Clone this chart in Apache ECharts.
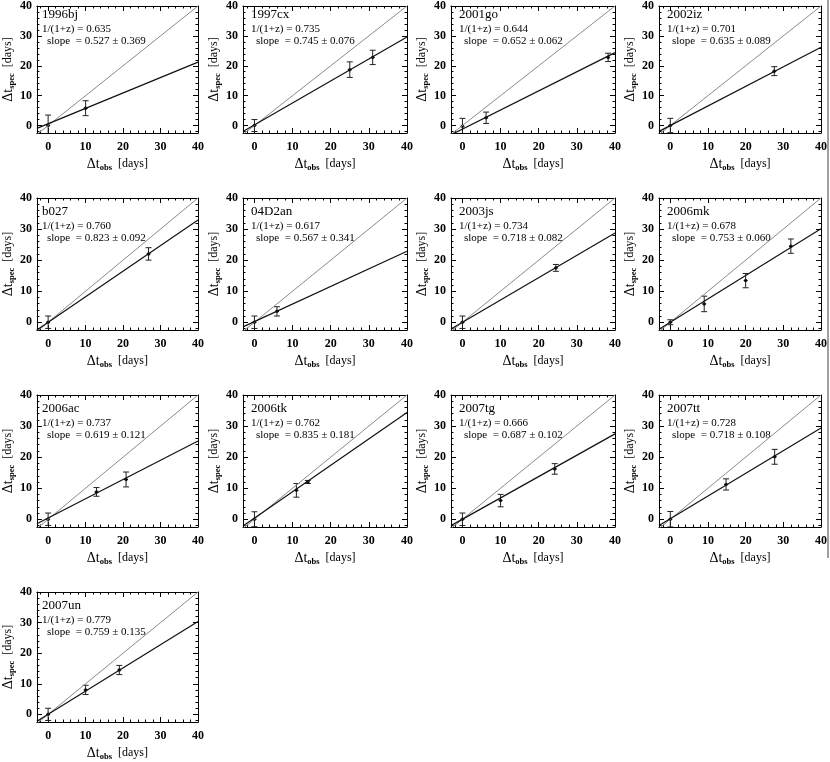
<!DOCTYPE html>
<html>
<head>
<meta charset="utf-8">
<script src="https://cdn.jsdelivr.net/npm/echarts@6/dist/echarts.min.js"></script>
<style>html,body{margin:0;padding:0;background:#fff}#c{width:830px;height:762px}</style>
</head>
<body>
<div id="c"></div>
<script>
// ---- data ----
const names = ['1996bj','1997cx','2001go','2002iz','b027','04D2an','2003js','2006mk','2006ac','2006tk','2007tg','2007tt','2007un'];
const invZ = ['0.635','0.735','0.644','0.701','0.760','0.617','0.734','0.678','0.737','0.762','0.666','0.728','0.779'];
const slopeText = ['0.527','0.745','0.652','0.635','0.823','0.567','0.718','0.753','0.619','0.835','0.687','0.718','0.759'];
const slopeErrText = ['0.369','0.076','0.062','0.089','0.092','0.341','0.082','0.060','0.121','0.181','0.102','0.108','0.135'];
// fitted line as drawn (slope, intercept)
const fitSlope = [0.515,0.735,0.64,0.655,0.823,0.567,0.718,0.753,0.62,0.85,0.687,0.73,0.759];
const fitIntercept = [0.6,0.2,-1.2,0,0,0.2,0,0,0.4,0.4,0,0.2,0];
// points
const obsX = [[0,10],[0,25,31],[0,6.2,38.2],[0,27.6],[0,26.8],[0,5.9],[0,24.5],[0,9,20,32],[0,12.9,20.8],[0,11,14],[0,10,24.2],[0,14.8,27.7],[0,10,19]];
const specY = [[0,5.8],[0,18.7,22.8],[-0.2,2.6,22.8],[0,18.2],[0,22],[0,3.5],[0,17.5],[0,5.9,13.4,24.5],[0,8.8,12.8],[0,9.3,12],[0,6,16.2],[0,11.2,20.1],[0,8,14.5]];
const specErr = [[3.5,2.5],[2,2.6,2.4],[2.6,1.9,1.4],[2.4,1.5],[2,2],[2,1.5],[2,1.1],[0.8,2.5,2.3,2.3],[2,1.4,2.4],[2.4,2.2,0.5],[2,2,1.7],[2.5,1.8,2.4],[2,1.5,1.5]];
const xRange = [-3, 40];
const yRange = [-2.5, 40];

// ---- layout ----
const colLeft = [34, 243, 451, 659];
const rowTop = [1, 198, 395, 592];
const W = 164, H = 132;
const FONT = 'Liberation Serif';

const chart = echarts.init(document.getElementById('c'), null, {renderer: 'canvas'});
const grid = [], xAxis = [], yAxis = [], series = [], graphic = [];

const nameRich = {
  d: {fontFamily: FONT, fontSize: 14, lineHeight: 16, color: '#000'},
  s: {fontFamily: FONT, fontSize: 8.5, lineHeight: 8, verticalAlign: 'bottom', color: '#000', fontWeight: 'bold'},
  b: {fontFamily: FONT, fontSize: 12, lineHeight: 16, color: '#000'}
};

names.forEach((nm, i) => {
  const left = colLeft[i % 4], top = rowTop[Math.floor(i / 4)];
  grid.push({left: left, top: top, width: W, height: H, containLabel: false});
  const tickCommon = {
    axisLine: {show: true, onZero: false, lineStyle: {color: '#000', width: 1}},
    axisTick: {show: true, inside: true, length: 5, lineStyle: {color: '#000', width: 1}},
    minorTick: {show: true, splitNumber: 5, length: 2.5, lineStyle: {color: '#000', width: 1}},
    splitLine: {show: false}
  };
  xAxis.push(Object.assign({
    type: 'value', gridIndex: i, min: xRange[0], max: xRange[1], position: 'bottom',
    axisLabel: {show: true, showMinLabel: false, margin: 8, color: '#000', fontFamily: FONT, fontWeight: 'bold', fontSize: 12},
    name: '{d|Δt}{s|obs}  {b|[days]}', nameLocation: 'middle', nameGap: 23,
    nameTextStyle: {color: '#000', fontFamily: FONT, rich: nameRich}
  }, tickCommon));
  xAxis.push(Object.assign({
    type: 'value', gridIndex: i, min: xRange[0], max: xRange[1], position: 'top',
    axisLabel: {show: false}
  }, tickCommon));
  yAxis.push(Object.assign({
    type: 'value', gridIndex: i, min: yRange[0], max: yRange[1], position: 'left',
    axisLabel: {show: true, showMinLabel: false, margin: 5, color: '#000', fontFamily: FONT, fontWeight: 'bold', fontSize: 12},
    name: '{d|Δt}{s|spec}  {b|[days]}', nameLocation: 'middle', nameGap: 17,
    nameTextStyle: {color: '#000', fontFamily: FONT, rich: nameRich}
  }, tickCommon));
  yAxis.push(Object.assign({
    type: 'value', gridIndex: i, min: yRange[0], max: yRange[1], position: 'right',
    axisLabel: {show: false}
  }, tickCommon));

  const xa = 2 * i, ya = 2 * i;
  // one-to-one line
  series.push({
    type: 'line', xAxisIndex: xa, yAxisIndex: ya, symbol: 'none', silent: true, clip: true,
    lineStyle: {color: '#8a8a8a', width: 1},
    data: [[xRange[0], xRange[0]], [xRange[1], xRange[1]]]
  });
  // fitted line
  const s = fitSlope[i], b = fitIntercept[i];
  series.push({
    type: 'line', xAxisIndex: xa, yAxisIndex: ya, symbol: 'none', silent: true, clip: true,
    lineStyle: {color: '#111', width: 1.2},
    data: [[xRange[0], s * xRange[0] + b], [xRange[1], s * xRange[1] + b]]
  });
  // error bars
  const pts = obsX[i].map((x, k) => [x, specY[i][k], specErr[i][k]]);
  series.push({
    type: 'custom', xAxisIndex: xa, yAxisIndex: ya, silent: true, clip: true,
    data: pts,
    renderItem: function (params, api) {
      const x = api.value(0), y = api.value(1), e = api.value(2);
      const p0 = api.coord([x, y - e]), p1 = api.coord([x, y + e]), pc = api.coord([x, y]);
      const st = {stroke: '#222', lineWidth: 1};
      return {type: 'group', children: [
        {type: 'line', shape: {x1: pc[0], y1: p0[1], x2: pc[0], y2: p1[1]}, style: st},
        {type: 'line', shape: {x1: pc[0] - 3, y1: p0[1], x2: pc[0] + 3, y2: p0[1]}, style: st},
        {type: 'line', shape: {x1: pc[0] - 3, y1: p1[1], x2: pc[0] + 3, y2: p1[1]}, style: st},
        {type: 'line', shape: {x1: pc[0] - 2, y1: pc[1], x2: pc[0] + 2, y2: pc[1]}, style: st}
      ]};
    }
  });
  series.push({
    type: 'scatter', xAxisIndex: xa, yAxisIndex: ya, silent: true,
    symbol: 'circle', symbolSize: 3.5, itemStyle: {color: '#000'},
    data: pts.map(p => [p[0], p[1]])
  });

  // annotation text
  graphic.push({type: 'text', left: left + 8, top: top + 7, silent: true,
    style: {text: nm, fontFamily: FONT, fontSize: 13, fill: '#000'}});
  graphic.push({type: 'text', left: left + 8, top: top + 23, silent: true,
    style: {text: '1/(1+z) = ' + invZ[i], fontFamily: FONT, fontSize: 11, fill: '#000'}});
  graphic.push({type: 'text', left: left + 13, top: top + 35, silent: true,
    style: {text: 'slope  = ' + slopeText[i] + ' ± ' + slopeErrText[i], fontFamily: FONT, fontSize: 11, fill: '#000'}});
});

// right gray frame edge
graphic.push({type: 'line', silent: true, shape: {x1: 828, y1: 0, x2: 828, y2: 558},
  style: {stroke: '#a0a0a0', lineWidth: 2}});

chart.setOption({
  animation: false,
  backgroundColor: '#fff',
  grid: grid, xAxis: xAxis, yAxis: yAxis, series: series, graphic: graphic
});
</script>
</body>
</html>
